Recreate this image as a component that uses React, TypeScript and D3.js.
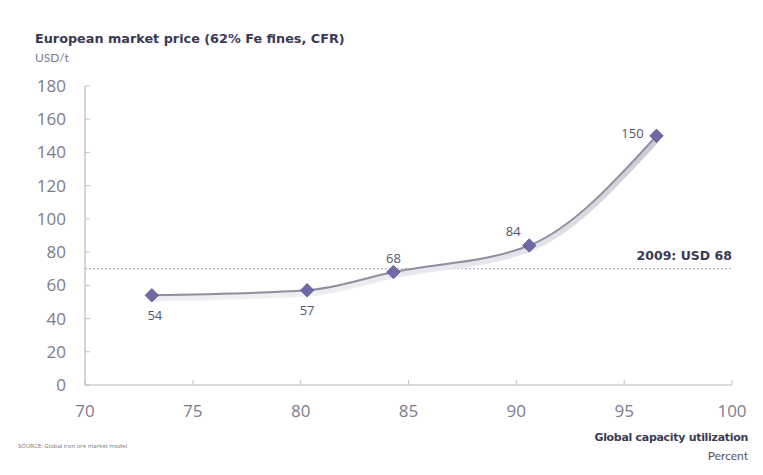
import React from "react";
import * as d3 from "d3";

const utilization = [73.1, 80.3, 84.3, 90.6, 96.5];
const prices = [54, 57, 68, 84, 150];
const priceLabels = ["54", "57", "68", "84", "150"];
const yTicks = [0, 20, 40, 60, 80, 100, 120, 140, 160, 180];
const xTicks = [70, 75, 80, 85, 90, 95, 100];
const refLineValue = 70;
const refLabel = "2009: USD 68";

const W = 763, H = 475;
const x = d3.scaleLinear().domain([70, 100]).range([85, 732]);
const y = d3.scaleLinear().domain([0, 180]).range([385, 86]);

// label offsets per point: [dx, dy]
const labelPos: [number, number][] = [
  [3, 20],
  [0, 20],
  [0, -14],
  [-16, -14],
  [-24, -3],
];

export default function App() {
  const pts: [number, number][] = utilization.map((u, i) => [x(u), y(prices[i])]);
  const line = d3.line().curve(d3.curveMonotoneX)(pts) || "";
  const diamond = d3.symbol().type(d3.symbolDiamond2).size(115)() || "";
  const tickColor = "#7c7c8c";
  const dark = "#3b3a55";
  const boldFont = "'DejaVu Sans', sans-serif";
  return (
    <svg width={W} height={H} style={{ position: "absolute", left: 0, top: 0, background: "#fff" }}
      fontFamily="'Open Sans', 'DejaVu Sans', sans-serif">
      <defs>
        <linearGradient id="sh" x1="0" y1="0" x2="0" y2="1">
          <stop offset="0" stopColor="#c8c8d4" />
          <stop offset="1" stopColor="#eeeef3" />
        </linearGradient>
      </defs>
      <text x={35} y={43} fontSize={12.8} fontWeight={700} fill={dark} fontFamily={boldFont}>
        European market price (62% Fe fines, CFR)
      </text>
      <text x={35} y={62} fontSize={12} fill={tickColor} fontFamily="Lato, sans-serif">USD/t</text>

      {/* axes */}
      <line x1={x(70)} x2={x(70)} y1={y(180)} y2={y(0)} stroke="#b8b8c0" strokeWidth={1.2} />
      <line x1={x(70)} x2={x(100)} y1={y(0)} y2={y(0)} stroke="#b8b8c0" strokeWidth={1.2} />
      {yTicks.map((t) => (
        <g key={"y" + t}>
          <line x1={x(70)} x2={x(70) + 5} y1={y(t)} y2={y(t)} stroke="#c0c0c8" />
          <text x={66} y={y(t) + 6} textAnchor="end" fontSize={17} fill={tickColor}>{t}</text>
        </g>
      ))}
      {xTicks.map((t) => (
        <g key={"x" + t}>
          <line x1={x(t)} x2={x(t)} y1={y(0)} y2={y(0) - 5} stroke="#c0c0c8" />
          <text x={x(t)} y={417} textAnchor="middle" fontSize={17} fill={tickColor}>{t}</text>
        </g>
      ))}

      {/* reference line */}
      <line x1={x(70)} x2={x(100)} y1={y(refLineValue)} y2={y(refLineValue)} stroke="#a4a4b2"
        strokeWidth={1} strokeDasharray="2,2" />
      <text x={x(100)} y={y(refLineValue) - 9} textAnchor="end" fontSize={12.5} fontWeight={700}
        fill={dark} fontFamily={boldFont}>{refLabel}</text>

      {/* curve with shadow */}
      <path d={line} fill="none" stroke="url(#sh)" strokeWidth={6} transform="translate(1,3)" />
      <path d={line} fill="none" stroke="#8e8e9e" strokeWidth={2} />

      {pts.map((p, i) => (
        <g key={"p" + i}>
          <path d={diamond} transform={`translate(${p[0]},${p[1]})`} fill="#6f6aa6" stroke="#5a5690" strokeWidth={0.8} />
          <text x={p[0] + labelPos[i][0]} y={p[1] + labelPos[i][1] + 5} textAnchor="middle"
            fontSize={13} fill="#55556a">{priceLabels[i]}</text>
        </g>
      ))}

      <text x={748} y={441} textAnchor="end" fontSize={11} letterSpacing={-0.3} fontWeight={700} fill={dark} fontFamily={boldFont}>
        Global capacity utilization
      </text>
      <text x={748} y={460} textAnchor="end" fontSize={12} fill="#555566" fontFamily="Lato, sans-serif">Percent</text>
      <text x={18} y={448} fontSize={6} fill="#777">SOURCE: Global iron ore market model</text>
    </svg>
  );
}
